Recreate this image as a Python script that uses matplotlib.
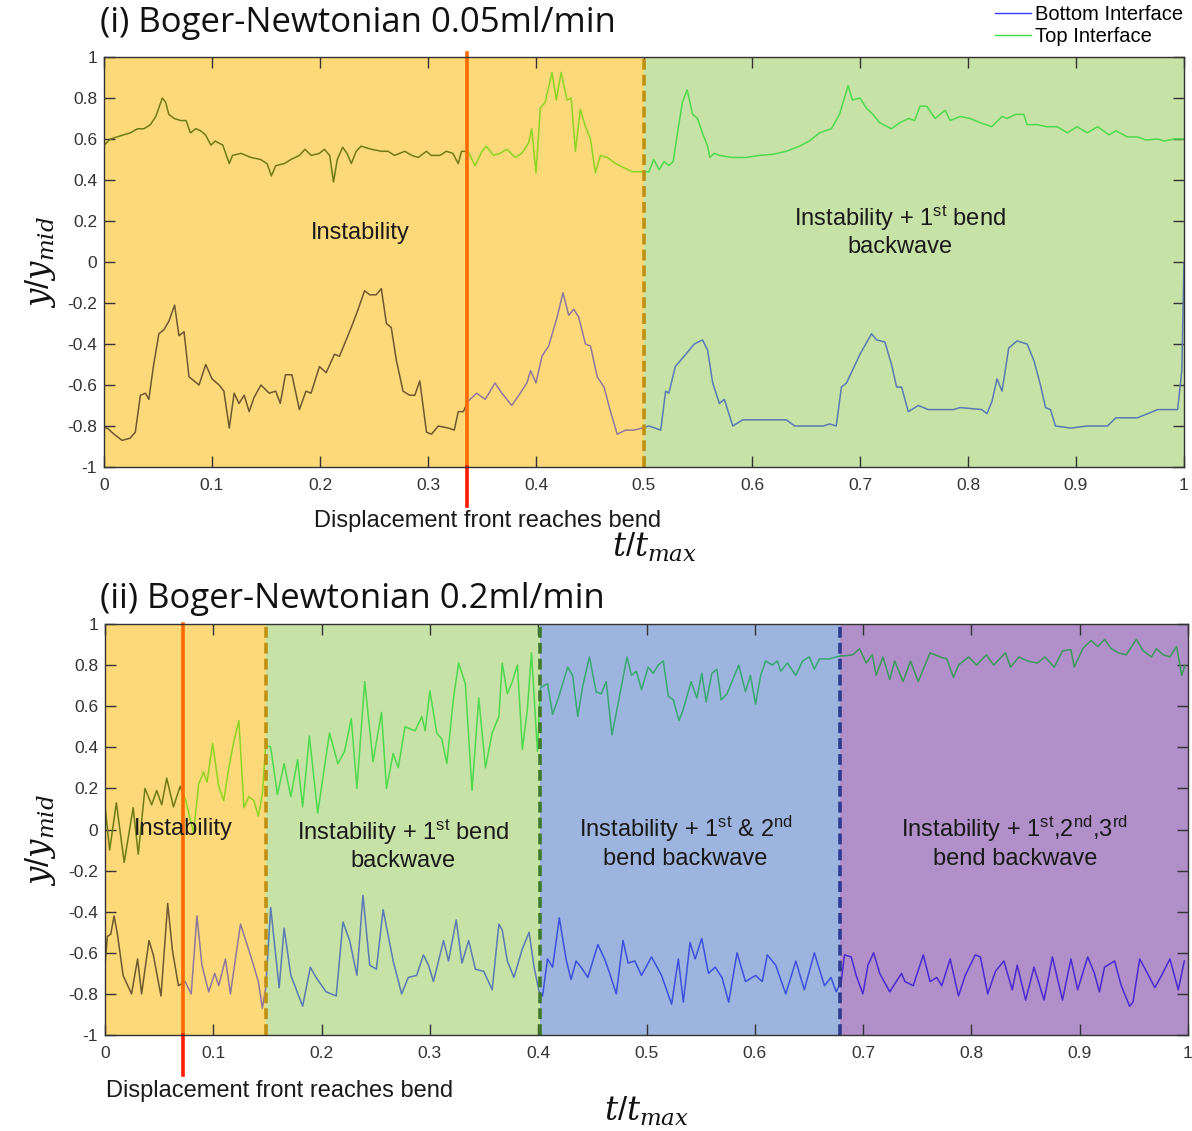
import numpy as np
import matplotlib
matplotlib.use('Agg')
import matplotlib.pyplot as plt
from matplotlib.lines import Line2D

plt.rcParams['font.family'] = ['Liberation Sans', 'DejaVu Sans']
plt.rcParams['mathtext.fontset'] = 'custom'
plt.rcParams['mathtext.rm'] = 'Liberation Sans'
plt.rcParams['mathtext.it'] = 'DejaVu Serif:italic'

# ---------------- data: panel (i) 0.05 ml/min ----------------
top_i_t = [0.000, 0.006, 0.012, 0.018, 0.0245, 0.031, 0.037, 0.043, 0.048, 0.054,
           0.057, 0.060, 0.065, 0.071, 0.076, 0.080, 0.085, 0.0895, 0.094, 0.099,
           0.103, 0.110, 0.116, 0.119, 0.127, 0.136, 0.145, 0.151, 0.155, 0.159,
           0.167, 0.173, 0.181, 0.186, 0.192, 0.1995, 0.204, 0.209, 0.2125, 0.216,
           0.221, 0.225, 0.229, 0.2335, 0.238, 0.2475, 0.257, 0.263, 0.269, 0.2785,
           0.285, 0.291, 0.2985, 0.303, 0.311, 0.317, 0.323, 0.328, 0.331, 0.337,
           0.3436, 0.350, 0.354, 0.3606, 0.3668, 0.373, 0.3807, 0.3869, 0.3931, 0.396,
           0.400, 0.404, 0.4086, 0.4148, 0.4188, 0.4232, 0.4287, 0.4325, 0.4365, 0.441,
           0.4458, 0.4504, 0.455, 0.4597, 0.466, 0.4737, 0.4814, 0.489, 0.4984, 0.5046,
           0.509, 0.514, 0.5186, 0.523, 0.527, 0.531, 0.5356, 0.540, 0.545, 0.5496,
           0.554, 0.5589, 0.561, 0.565, 0.5697, 0.582, 0.5945, 0.607, 0.619, 0.6317,
           0.644, 0.653, 0.6626, 0.6735, 0.681, 0.689, 0.693, 0.700, 0.706, 0.712,
           0.718, 0.729, 0.737, 0.745, 0.7505, 0.7556, 0.7618, 0.7695, 0.7788, 0.7835,
           0.7927, 0.802, 0.811, 0.822, 0.8315, 0.836, 0.844, 0.8516, 0.8547, 0.864,
           0.873, 0.8826, 0.892, 0.901, 0.9105, 0.920, 0.9306, 0.937, 0.9477, 0.957,
           0.9647, 0.9756, 0.9817, 0.991, 1.000]
top_i_y = [0.57, 0.60, 0.61, 0.62, 0.63, 0.65, 0.65, 0.67, 0.71, 0.80,
           0.78, 0.72, 0.70, 0.69, 0.69, 0.63, 0.65, 0.64, 0.62, 0.57,
           0.59, 0.57, 0.48, 0.52, 0.53, 0.51, 0.50, 0.48, 0.42, 0.47,
           0.48, 0.50, 0.52, 0.55, 0.52, 0.53, 0.55, 0.52, 0.39, 0.50,
           0.56, 0.53, 0.48, 0.54, 0.565, 0.55, 0.54, 0.54, 0.52, 0.54,
           0.52, 0.51, 0.54, 0.52, 0.52, 0.54, 0.53, 0.48, 0.54, 0.54,
           0.47, 0.54, 0.565, 0.52, 0.53, 0.55, 0.51, 0.53, 0.58, 0.65,
           0.435, 0.75, 0.78, 0.925, 0.79, 0.925, 0.79, 0.80, 0.54, 0.745,
           0.66, 0.60, 0.435, 0.52, 0.51, 0.48, 0.46, 0.44, 0.44, 0.44,
           0.50, 0.45, 0.49, 0.47, 0.49, 0.63, 0.78, 0.84, 0.72, 0.70,
           0.63, 0.565, 0.51, 0.53, 0.52, 0.51, 0.51, 0.52, 0.525, 0.54,
           0.565, 0.59, 0.63, 0.65, 0.72, 0.86, 0.79, 0.80, 0.75, 0.72,
           0.68, 0.65, 0.68, 0.70, 0.69, 0.76, 0.76, 0.70, 0.74, 0.69,
           0.71, 0.70, 0.68, 0.66, 0.71, 0.70, 0.72, 0.72, 0.67, 0.67,
           0.66, 0.66, 0.63, 0.66, 0.63, 0.66, 0.62, 0.64, 0.61, 0.61,
           0.595, 0.60, 0.59, 0.60, 0.60]

bot_i_t = [0.000, 0.003, 0.0093, 0.0167, 0.024, 0.029, 0.0337, 0.0384, 0.0415, 0.046,
           0.0508, 0.0555, 0.060, 0.0654, 0.0694, 0.0741, 0.0787, 0.0834, 0.088, 0.0942,
           0.100, 0.1066, 0.111, 0.116, 0.1205, 0.125, 0.1298, 0.1344, 0.139, 0.1453,
           0.153, 0.159, 0.1632, 0.168, 0.174, 0.1809, 0.187, 0.1917, 0.1995, 0.2057,
           0.2134, 0.218, 0.2227, 0.2289, 0.235, 0.2413, 0.246, 0.252, 0.2568, 0.2615,
           0.266, 0.2707, 0.2769, 0.283, 0.2878, 0.2924, 0.2986, 0.3033, 0.3095, 0.3188,
           0.3243, 0.328, 0.3327, 0.337, 0.345, 0.353, 0.362, 0.3684, 0.3776, 0.3854,
           0.3916, 0.395, 0.400, 0.4055, 0.4117, 0.4195, 0.425, 0.4303, 0.435, 0.4396,
           0.4458, 0.4505, 0.4567, 0.463, 0.469, 0.4752, 0.483, 0.4907, 0.4984, 0.5046,
           0.5155, 0.520, 0.523, 0.529, 0.5387, 0.5465, 0.5542, 0.5589, 0.5636, 0.5698,
           0.5744, 0.5822, 0.5914, 0.6318, 0.6395, 0.666, 0.6719, 0.678, 0.6828, 0.6875,
           0.700, 0.7107, 0.7153, 0.723, 0.7292, 0.7339, 0.7385, 0.7447, 0.754, 0.7633,
           0.7865, 0.7927, 0.8129, 0.8175, 0.8222, 0.8269, 0.8315, 0.8377, 0.8454, 0.8547,
           0.861, 0.8671, 0.8718, 0.8764, 0.881, 0.895, 0.9105, 0.9291, 0.937, 0.9569,
           0.9663, 0.9756, 0.9941, 0.998, 1.000]
bot_i_y = [-0.81, -0.81, -0.84, -0.87, -0.86, -0.83, -0.65, -0.64, -0.67, -0.50,
           -0.35, -0.33, -0.29, -0.21, -0.36, -0.34, -0.56, -0.58, -0.60, -0.50,
           -0.57, -0.60, -0.63, -0.81, -0.64, -0.69, -0.65, -0.73, -0.66, -0.60,
           -0.64, -0.63, -0.69, -0.55, -0.55, -0.72, -0.63, -0.64, -0.51, -0.54,
           -0.45, -0.46, -0.40, -0.32, -0.235, -0.14, -0.16, -0.16, -0.13, -0.30,
           -0.32, -0.48, -0.63, -0.65, -0.65, -0.58, -0.83, -0.84, -0.80, -0.81,
           -0.82, -0.73, -0.73, -0.68, -0.64, -0.67, -0.59, -0.64, -0.70, -0.64,
           -0.59, -0.53, -0.59, -0.46, -0.41, -0.27, -0.15, -0.26, -0.23, -0.27,
           -0.40, -0.41, -0.56, -0.61, -0.73, -0.84, -0.82, -0.82, -0.81, -0.80,
           -0.82, -0.63, -0.64, -0.51, -0.45, -0.40, -0.38, -0.43, -0.59, -0.69,
           -0.67, -0.80, -0.77, -0.77, -0.80, -0.80, -0.79, -0.80, -0.61, -0.59,
           -0.45, -0.35, -0.38, -0.39, -0.50, -0.61, -0.61, -0.73, -0.70, -0.72,
           -0.72, -0.71, -0.72, -0.74, -0.68, -0.57, -0.63, -0.42, -0.385, -0.40,
           -0.48, -0.60, -0.71, -0.72, -0.80, -0.81, -0.80, -0.80, -0.76, -0.76,
           -0.74, -0.72, -0.72, -0.53, -0.006]

# ---------------- data: panel (ii) 0.2 ml/min ----------------
top_ii_t = [0.0, 0.0043, 0.0105, 0.0177, 0.026, 0.0307, 0.0369, 0.0431, 0.0477, 0.0524,
            0.057, 0.0632, 0.0694, 0.0746, 0.0818, 0.0864, 0.0911, 0.0942, 0.0994, 0.105,
            0.1096, 0.1143, 0.119, 0.1236, 0.1283, 0.1329, 0.1376, 0.1416, 0.1453, 0.1484,
            0.153, 0.1592, 0.1654, 0.1716, 0.1778, 0.1825, 0.1887, 0.1964, 0.2073, 0.215,
            0.2212, 0.2274, 0.2326, 0.2398, 0.2475, 0.2553, 0.2599, 0.2661, 0.2708, 0.277,
            0.2863, 0.2925, 0.2956, 0.300, 0.3063, 0.311, 0.3156, 0.3218, 0.3265, 0.3327,
            0.3389, 0.3451, 0.3513, 0.3575, 0.3637, 0.3668, 0.3715, 0.3761, 0.3808, 0.3854,
            0.390, 0.3938, 0.3993, 0.402, 0.4086, 0.4133, 0.4186, 0.4272, 0.4318, 0.4365,
            0.4412, 0.4473, 0.4535, 0.4582, 0.4628, 0.4681, 0.4737, 0.482, 0.4861, 0.4907,
            0.4954, 0.5015, 0.5062, 0.5108, 0.5155, 0.5201, 0.5248, 0.530, 0.534, 0.5412,
            0.5465, 0.5511, 0.5551, 0.5604, 0.565, 0.569, 0.5743, 0.5805, 0.5852, 0.5914,
            0.596, 0.6007, 0.6054, 0.610, 0.6162, 0.6208, 0.624, 0.6301, 0.6379, 0.6441,
            0.6503, 0.655, 0.6596, 0.669, 0.6751, 0.6798, 0.6828, 0.6905, 0.6967, 0.7029,
            0.7085, 0.7121, 0.7183, 0.7246, 0.7292, 0.7369, 0.7438, 0.7509, 0.7618, 0.7711,
            0.7773, 0.7834, 0.7881, 0.7974, 0.8048, 0.8138, 0.8206, 0.8314, 0.8361, 0.8439,
            0.8516, 0.861, 0.8678, 0.8765, 0.8842, 0.8919, 0.895, 0.9028, 0.9105, 0.9167,
            0.923, 0.9291, 0.9353, 0.943, 0.9523, 0.9585, 0.9663, 0.9709, 0.9771, 0.9833,
            0.9895, 0.9942, 0.9973]
top_ii_y = [0.114, -0.10, 0.13, -0.16, 0.106, -0.12, 0.20, 0.12, 0.19, 0.12,
            0.25, 0.11, 0.21, 0.14, -0.016, 0.22, 0.28, 0.23, 0.42, 0.21,
            0.14, 0.30, 0.43, 0.53, 0.106, 0.16, 0.14, 0.065, 0.17, 0.41,
            0.40, 0.17, 0.32, 0.16, 0.34, 0.11, 0.455, 0.08, 0.47, 0.32,
            0.38, 0.54, 0.20, 0.72, 0.33, 0.57, 0.20, 0.37, 0.30, 0.50,
            0.48, 0.55, 0.48, 0.675, 0.47, 0.44, 0.32, 0.64, 0.81, 0.71,
            0.19, 0.64, 0.30, 0.47, 0.55, 0.81, 0.66, 0.72, 0.80, 0.39,
            0.585, 0.86, 0.38, 0.69, 0.71, 0.56, 0.64, 0.79, 0.75, 0.55,
            0.70, 0.84, 0.67, 0.66, 0.72, 0.46, 0.61, 0.84, 0.75, 0.77,
            0.68, 0.79, 0.76, 0.80, 0.82, 0.65, 0.63, 0.53, 0.585, 0.72,
            0.64, 0.76, 0.62, 0.76, 0.78, 0.63, 0.66, 0.74, 0.80, 0.67,
            0.75, 0.61, 0.75, 0.82, 0.80, 0.82, 0.77, 0.81, 0.75, 0.82,
            0.84, 0.78, 0.83, 0.83, 0.84, 0.845, 0.845, 0.85, 0.88, 0.81,
            0.85, 0.75, 0.84, 0.73, 0.82, 0.72, 0.82, 0.72, 0.86, 0.84,
            0.83, 0.74, 0.80, 0.84, 0.80, 0.85, 0.80, 0.86, 0.79, 0.84,
            0.82, 0.81, 0.84, 0.79, 0.87, 0.875, 0.79, 0.88, 0.92, 0.89,
            0.925, 0.88, 0.86, 0.85, 0.925, 0.87, 0.84, 0.88, 0.85, 0.84,
            0.89, 0.75, 0.80]

bot_ii_t = [0.0, 0.0022, 0.0053, 0.0084, 0.0115, 0.0167, 0.0245, 0.0301, 0.0338, 0.0406,
            0.0446, 0.0517, 0.0579, 0.0623, 0.0678, 0.074, 0.0796, 0.0849, 0.0895, 0.0957,
            0.1013, 0.105, 0.1112, 0.1158, 0.1251, 0.136, 0.1416, 0.1453, 0.1484, 0.153,
            0.1608, 0.1654, 0.1716, 0.1825, 0.1896, 0.1949, 0.2042, 0.2135, 0.2197, 0.2259,
            0.2326, 0.2382, 0.2444, 0.2506, 0.2568, 0.2661, 0.2739, 0.280, 0.2878, 0.294,
            0.2987, 0.3033, 0.3126, 0.3172, 0.3243, 0.3296, 0.3358, 0.342, 0.3497, 0.3575,
            0.3637, 0.3668, 0.3715, 0.3776, 0.3854, 0.3916, 0.3962, 0.4009, 0.404, 0.4086,
            0.4133, 0.4195, 0.4257, 0.4303, 0.435, 0.4396, 0.4458, 0.4551, 0.4613, 0.466,
            0.4721, 0.4783, 0.483, 0.4892, 0.4954, 0.5046, 0.5139, 0.5232, 0.5294, 0.534,
            0.5402, 0.5449, 0.551, 0.5572, 0.5634, 0.5697, 0.5759, 0.5836, 0.5914, 0.6007,
            0.6069, 0.6115, 0.6193, 0.6286, 0.6379, 0.6457, 0.655, 0.6643, 0.6704, 0.6751,
            0.6798, 0.6828, 0.689, 0.6936, 0.6998, 0.7045, 0.7097, 0.7153, 0.7246, 0.7355,
            0.7386, 0.7463, 0.7556, 0.7618, 0.768, 0.7726, 0.7804, 0.7881, 0.7943, 0.8036,
            0.8083, 0.8151, 0.8222, 0.830, 0.8377, 0.8423, 0.8501, 0.8578, 0.8671, 0.8748,
            0.8841, 0.8919, 0.8981, 0.9074, 0.9136, 0.9182, 0.9229, 0.9322, 0.9384, 0.9461,
            0.9492, 0.9554, 0.9616, 0.9694, 0.9756, 0.9833, 0.991, 0.9966]
bot_ii_y = [-0.66, -0.52, -0.51, -0.42, -0.51, -0.71, -0.80, -0.63, -0.80, -0.54,
            -0.61, -0.81, -0.36, -0.59, -0.76, -0.74, -0.80, -0.42, -0.66, -0.79,
            -0.70, -0.76, -0.63, -0.80, -0.46, -0.64, -0.74, -0.87, -0.77, -0.38,
            -0.77, -0.48, -0.71, -0.86, -0.67, -0.72, -0.79, -0.81, -0.45, -0.54,
            -0.71, -0.32, -0.66, -0.68, -0.39, -0.64, -0.80, -0.72, -0.71, -0.61,
            -0.66, -0.74, -0.54, -0.64, -0.44, -0.65, -0.54, -0.68, -0.69, -0.78,
            -0.46, -0.49, -0.64, -0.72, -0.58, -0.50, -0.67, -0.79, -0.81, -0.63,
            -0.67, -0.43, -0.63, -0.73, -0.64, -0.67, -0.72, -0.56, -0.63, -0.70,
            -0.80, -0.54, -0.65, -0.64, -0.71, -0.62, -0.71, -0.85, -0.63, -0.84,
            -0.55, -0.63, -0.53, -0.70, -0.67, -0.72, -0.84, -0.60, -0.74, -0.71,
            -0.74, -0.61, -0.66, -0.80, -0.64, -0.78, -0.60, -0.76, -0.72, -0.79,
            -0.74, -0.61, -0.62, -0.71, -0.80, -0.66, -0.60, -0.70, -0.79, -0.70,
            -0.74, -0.76, -0.61, -0.74, -0.72, -0.76, -0.63, -0.81, -0.71, -0.61,
            -0.62, -0.80, -0.69, -0.64, -0.78, -0.66, -0.83, -0.67, -0.83, -0.62,
            -0.83, -0.63, -0.78, -0.62, -0.70, -0.79, -0.67, -0.64, -0.76, -0.86,
            -0.84, -0.63, -0.69, -0.77, -0.71, -0.63, -0.78, -0.64]

# regime boundaries and annotations
bounds_i = [0.0, 0.5, 1.0]
region_colors_i = ['#fed97a', '#c6e2a6']
front_i = 0.336
bounds_ii = [0.0, 0.1487, 0.4017, 0.679, 1.0]
region_colors_ii = ['#fed97a', '#c6e2a6', '#9db4de', '#b18fc9']
dash_colors_ii = ['#c09012', '#3f7a2c', '#2e3a8e']
front_ii = 0.072

x_ticks = [0, 0.1, 0.2, 0.3, 0.4, 0.5, 0.6, 0.7, 0.8, 0.9, 1.0]
x_tick_labels = ['0', '0.1', '0.2', '0.3', '0.4', '0.5', '0.6', '0.7', '0.8', '0.9', '1']
y_ticks = [-1, -0.8, -0.6, -0.4, -0.2, 0, 0.2, 0.4, 0.6, 0.8, 1]
y_tick_labels = ['-1', '-0.8', '-0.6', '-0.4', '-0.2', '0', '0.2', '0.4', '0.6', '0.8', '1']

LINE_TOP_SEG_I = ['#6c7c14', '#8ad622', '#4fd94f']
LINE_BOT_SEG_I = ['#6b5a2f', '#8c789c', '#5b79b3']
LINE_TOP_SEG_II = ['#6c7c14', '#8ad622', '#4fd94f', '#3aa872', '#3b9a5c']
LINE_BOT_SEG_II = ['#6b5a2f', '#8c789c', '#5b79b3', '#3c50dc', '#4a2ad0']

TXT = 17
LBL = 23.5


def draw_segments(ax, t, y, seg_bounds, colors, lw=1.1):
    t = np.asarray(t, float)
    y = np.asarray(y, float)
    for a, b, c in zip(seg_bounds[:-1], seg_bounds[1:], colors):
        b = min(b, t[-1])
        m = (t > a) & (t < b)
        ts = np.concatenate([[a], t[m], [b]])
        ys = np.concatenate([[np.interp(a, t, y)], y[m], [np.interp(b, t, y)]])
        ax.plot(ts, ys, color=c, lw=lw, zorder=2, solid_joinstyle='round')


def style_axes(ax):
    ax.set_xlim(0, 1)
    ax.set_ylim(-1, 1)
    ax.set_xticks(x_ticks)
    ax.set_xticklabels(x_tick_labels)
    ax.set_yticks(y_ticks)
    ax.set_yticklabels(y_tick_labels)
    ax.tick_params(direction='in', top=True, right=True, length=8, width=1,
                   color='#333333', labelsize=12.5, labelcolor='#333333')
    ax.tick_params(axis='x', pad=8)
    ax.tick_params(axis='y', pad=5)
    for s in ax.spines.values():
        s.set_color('#333333')
        s.set_linewidth(1.0)
        s.set_zorder(6)


fig = plt.figure(figsize=(11.92, 11.31), dpi=100)
ax1 = fig.add_axes([104 / 1192, 1 - 467 / 1131, 1080 / 1192, 410 / 1131])
ax2 = fig.add_axes([105 / 1192, 1 - 1035 / 1131, 1083 / 1192, 411 / 1131])

# ---- panel (i) ----
for a, b, c in zip(bounds_i[:-1], bounds_i[1:], region_colors_i):
    ax1.axvspan(a, b, color=c, zorder=0, lw=0)
draw_segments(ax1, top_i_t, top_i_y, [0, front_i, 0.5, 1.0], LINE_TOP_SEG_I)
draw_segments(ax1, bot_i_t, bot_i_y, [0, front_i, 0.5, 1.0], LINE_BOT_SEG_I)
ax1.axvline(0.5, color='#c09012', lw=2.6, ls=(0, (3, 1.4)), zorder=3)
ax1.plot([front_i, front_i], [-1, 1.02], color='#ff6a00', lw=2.6, zorder=4, clip_on=False)
ax1.plot([front_i, front_i], [-1.19, -1], color='#ff1a00', lw=2.6, zorder=4, clip_on=False)
style_axes(ax1)
ax1.text(0.237, 0.141, 'Instability', ha='center', va='center', fontsize=TXT, color='#1a1a1a', zorder=5)
ax1.text(0.737, 0.151, 'Instability + 1$^{\\mathrm{st}}$ bend\nbackwave', ha='center', va='center',
         fontsize=TXT, color='#1a1a1a', linespacing=1.2, zorder=5)

# ---- panel (ii) ----
for a, b, c in zip(bounds_ii[:-1], bounds_ii[1:], region_colors_ii):
    ax2.axvspan(a, b, color=c, zorder=0, lw=0)
seg_ii = [0, front_ii] + bounds_ii[1:]
draw_segments(ax2, top_ii_t, top_ii_y, seg_ii, LINE_TOP_SEG_II)
draw_segments(ax2, bot_ii_t, bot_ii_y, seg_ii, LINE_BOT_SEG_II)
for xb, dc in zip(bounds_ii[1:-1], dash_colors_ii):
    ax2.axvline(xb, color=dc, lw=2.6, ls=(0, (3, 1.4)), zorder=3)
ax2.plot([front_ii, front_ii], [-1, 1.0], color='#ff6a00', lw=2.6, zorder=4, clip_on=False)
ax2.plot([front_ii, front_ii], [-1.195, -1], color='#ff1a00', lw=2.6, zorder=4, clip_on=False)
style_axes(ax2)
ax2.text(0.072, 0.0, 'Instability', ha='center', va='center', fontsize=TXT, color='#1a1a1a', zorder=5)
ax2.text(0.275, -0.075, 'Instability + 1$^{\\mathrm{st}}$ bend\nbackwave', ha='center', va='center',
         fontsize=TXT, color='#1a1a1a', linespacing=1.2, zorder=5)
ax2.text(0.536, -0.06, 'Instability + 1$^{\\mathrm{st}}$ & 2$^{\\mathrm{nd}}$\nbend backwave', ha='center',
         va='center', fontsize=TXT, color='#1a1a1a', linespacing=1.2, zorder=5)
ax2.text(0.840, -0.06, 'Instability + 1$^{\\mathrm{st}}$,2$^{\\mathrm{nd}}$,3$^{\\mathrm{rd}}$\nbend backwave',
         ha='center', va='center', fontsize=TXT, color='#1a1a1a', linespacing=1.2, zorder=5)

# ---- titles, labels, annotations ----
fig.text(100 / 1192, 1 - 23 / 1131, '(i) Boger-Newtonian 0.05ml/min', ha='left', va='center',
         fontsize=25, family='Open Sans', color='#111111')
fig.text(100 / 1192, 1 - 599 / 1131, '(ii) Boger-Newtonian 0.2ml/min', ha='left', va='center',
         fontsize=25, family='Open Sans', color='#111111')
for yc in (262, 840):
    fig.text(40 / 1192, 1 - yc / 1131, '$y/y_{mid}$', rotation=90, ha='center', va='center',
             fontsize=LBL, color='#111111')
fig.text(655 / 1192, 1 - 547 / 1131, '$t/t_{max}$', ha='center', va='center', fontsize=LBL, color='#111111')
fig.text(647 / 1192, 1 - 1111 / 1131, '$t/t_{max}$', ha='center', va='center', fontsize=LBL, color='#111111')
fig.text(488 / 1192, 1 - 521 / 1131, 'Displacement front reaches bend', ha='center', va='center',
         fontsize=TXT, color='#1a1a1a')
fig.text(106 / 1192, 1 - 1091 / 1131, 'Displacement front reaches bend', ha='left', va='center',
         fontsize=TXT, color='#1a1a1a')

handles = [Line2D([], [], color='#3a3aff', lw=1.0), Line2D([], [], color='#3ee03e', lw=1.0)]
fig.legend(handles, ['Bottom Interface', 'Top Interface'], loc='upper right',
           bbox_to_anchor=(1188 / 1192, 1.0), frameon=False, fontsize=14.5,
           handlelength=1.8, handletextpad=0.2, labelspacing=0.15, borderaxespad=0.1,
           borderpad=0.15)

fig.savefig('out.png', dpi=100)
